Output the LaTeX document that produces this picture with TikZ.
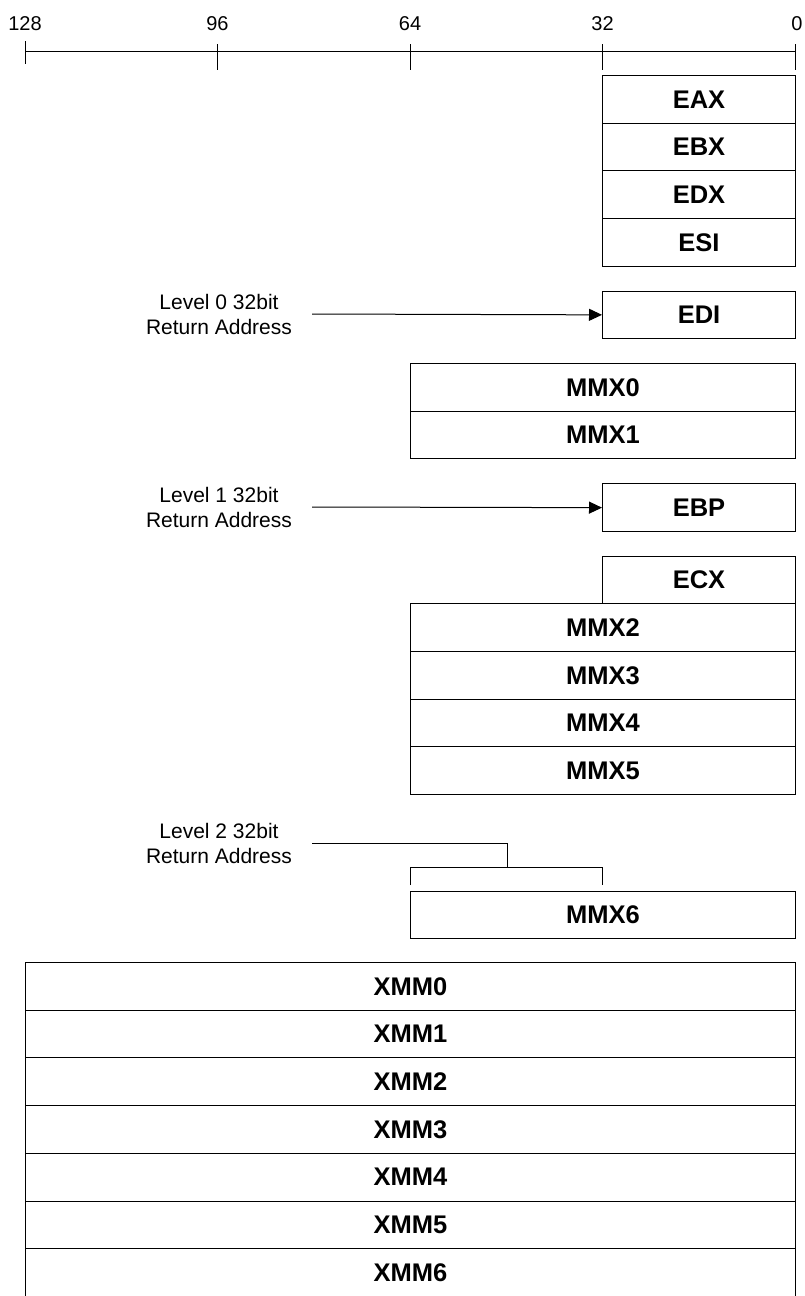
\documentclass[tikz,border=0pt]{standalone}
\usepackage{fontspec}
\setmainfont{Liberation Sans}
\usetikzlibrary{arrows.meta}
\tikzset{
  x=1pt, y=-1pt,
  reg/.style={draw, line width=1pt, rectangle, anchor=north west, inner sep=0pt,
    minimum height=47.7pt, font=\fontsize{25.5}{30}\selectfont\bfseries},
  w32/.style={reg, minimum width=193pt},
  w64/.style={reg, minimum width=385pt},
  w128/.style={reg, minimum width=770pt},
  lbl/.style={align=center, inner sep=0pt, font=\fontsize{21}{25}\selectfont},
  num/.style={inner sep=0pt, font=\fontsize{20}{24}\selectfont},
  ln/.style={line width=1pt},
  arr/.style={ln, -{Triangle[length=13pt,width=12pt]}}
}
\begin{document}
\begin{tikzpicture}
\useasboundingbox (0,0) rectangle (804,1296);
% ruler
\coordinate (r128) at (25,51);
\coordinate (r0) at (795,51);
\draw[ln] (r128) -- (r0);
\draw[ln] (25,41) -- (25,64);
\foreach \x in {217.5,410,602.5,795} \draw[ln] (\x,44) -- (\x,70);
\node[num] (n128) at (25,24) {128};
\node[num] (n96) at (217.5,24) {96};
\node[num] (n64) at (410,24) {64};
\node[num] (n32) at (602.5,24) {32};
\node[num] (n0) at (797,24) {0};
% registers
\node[w32] (eax) at (602,75) {EAX};
\node[w32] (ebx) at (602,122.7) {EBX};
\node[w32] (edx) at (602,170.4) {EDX};
\node[w32] (esi) at (602,218.1) {ESI};
\node[w32] (edi) at (602,290.5) {EDI};
\node[w64] (mmx0) at (410,363) {MMX0};
\node[w64] (mmx1) at (410,410.7) {MMX1};
\node[w32] (ebp) at (602,483.3) {EBP};
\node[w32] (ecx) at (602,555.5) {ECX};
\node[w64] (mmx2) at (410,603.2) {MMX2};
\node[w64] (mmx3) at (410,650.9) {MMX3};
\node[w64] (mmx4) at (410,698.6) {MMX4};
\node[w64] (mmx5) at (410,746.3) {MMX5};
\node[w64] (mmx6) at (410,890.5) {MMX6};
\node[w128] (xmm0) at (25,962) {XMM0};
\node[w128] (xmm1) at (25,1009.7) {XMM1};
\node[w128] (xmm2) at (25,1057.4) {XMM2};
\node[w128] (xmm3) at (25,1105.1) {XMM3};
\node[w128] (xmm4) at (25,1152.8) {XMM4};
\node[w128] (xmm5) at (25,1200.5) {XMM5};
\node[w128] (xmm6) at (25,1248.2) {XMM6};
% return address labels
\node[lbl] (lv0) at (219,314) {Level 0 32bit\\Return Address};
\node[lbl] (lv1) at (219,507) {Level 1 32bit\\Return Address};
\node[lbl] (lv2) at (219,843) {Level 2 32bit\\Return Address};
\draw[arr] ([xshift=20pt]lv0.east) -- (edi.west);
\draw[arr] ([xshift=20pt]lv1.east) -- (ebp.west);
\coordinate (bkl) at (410,885);
\coordinate (bkr) at (602,885);
\coordinate (bkm) at (507,867);
\draw[ln] ([xshift=20pt]lv2.east) -| (bkm);
\draw[ln] (bkl) -- (410,867) -- (602,867) -- (bkr);
\end{tikzpicture}
\end{document}
